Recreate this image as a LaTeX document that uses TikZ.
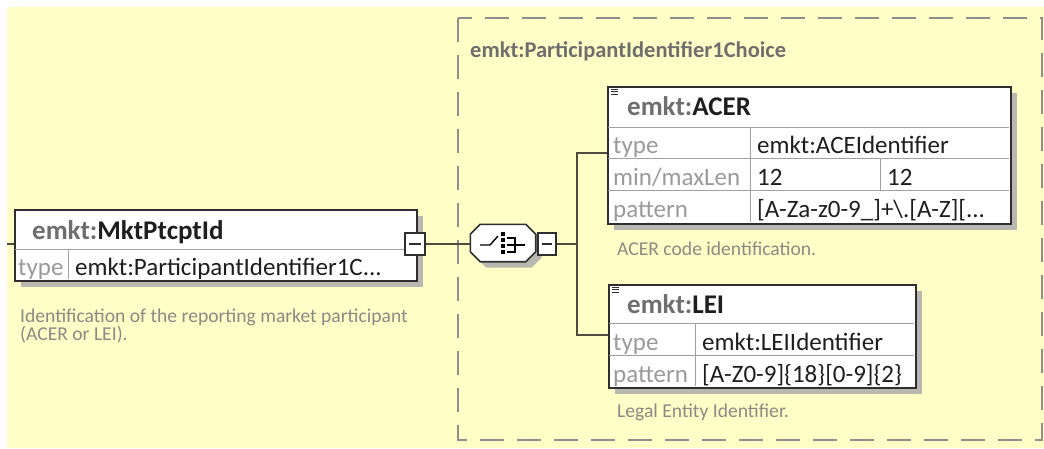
\documentclass[tikz,border=0pt]{standalone}
\usepackage{fontspec}
\setmainfont{Carlito}
\usetikzlibrary{shadows,positioning}

\definecolor{bgyellow}{HTML}{FFFEC6}
\definecolor{dashgray}{HTML}{8E8E8E}
\definecolor{labelgray}{HTML}{9A9A9A}
\definecolor{descgray}{HTML}{8A8A86}
\definecolor{prefixgray}{HTML}{6E6E6E}
\definecolor{textdark}{HTML}{1E1E1E}
\definecolor{boxline}{HTML}{2E2E2E}
\definecolor{rowline}{HTML}{A0A0A0}
\definecolor{shadowgray}{HTML}{B8B8B0}

\tikzset{
    elbox/.style={draw=boxline, line width=1.6pt, fill=white, anchor=north west, inner sep=0pt,
        general shadow={fill=shadowgray, shadow xshift=6pt, shadow yshift=-6pt}},
    foldbox/.style={draw=boxline, line width=1.3pt, fill=white, minimum width=20pt, minimum height=22pt, inner sep=0pt},
    rowrule/.style={draw=rowline, line width=1pt},
    conn/.style={draw=black!80!yellow, line width=1.4pt},
    hdr/.style={anchor=base west, inner sep=0pt, text=textdark, font=\fontsize{27}{27}\selectfont\bfseries},
    lbl/.style={anchor=base west, inner sep=0pt, text=labelgray, font=\fontsize{25}{25}\selectfont},
    val/.style={anchor=base west, inner sep=0pt, text=textdark, font=\fontsize{25}{25}\selectfont},
    desc/.style={anchor=base west, inner sep=0pt, text=descgray, font=\fontsize{19.6}{19.6}\selectfont},
}

\begin{document}
\begin{tikzpicture}[x=1pt,y=-1pt]
    % Canvas
    \fill[white] (0,0) rectangle (1044,448);
    \fill[bgyellow] (7,7) rectangle (1044,448);
    \useasboundingbox (0,0) rectangle (1044,448);

    % Choice group frame
    \draw[dashgray, line width=1.8pt, dash pattern=on 24pt off 13pt] (458,18) rectangle (1042,440);
    \node[anchor=base west, inner sep=0pt, text=prefixgray, font=\fontsize{22.5}{22.5}\selectfont\bfseries]
        (grouptitle) at (470,57) {emkt:ParticipantIdentifier1Choice};

    % Root element
    \node[elbox, minimum width=402pt, minimum height=71pt] (main) at (14,209) {};
    \draw[rowrule] (15,249) -- (415,249);
    \draw[rowrule] (68,249) -- (68,279);
    \node[hdr] (mainname) at (32,239) {\textcolor{prefixgray}{emkt:}MktPtcptId};
    \node[lbl] (maintypel) at (18,275) {type};
    \node[val] (maintype) at (75,275) {emkt:ParticipantIdentifier1C...};
    \node[desc] (maindesc) at (20,322) {Identification of the reporting market participant};
    \node[desc] (maindescb) at (20,340) {(ACER or LEI).};
    \node[foldbox] (mainfold) at (415,244) {};
    \draw[boxline, line width=1.3pt] ([xshift=-6pt]mainfold.center) -- ([xshift=6pt]mainfold.center);

    % Choice compositor
    \node[minimum width=65pt, minimum height=37pt, inner sep=0pt] (choice) at (503,243) {};
    \filldraw[fill=white, draw=boxline, line width=1.6pt,
        general shadow={fill=shadowgray, shadow xshift=6pt, shadow yshift=-6pt}]
        ([xshift=10pt]choice.north west) -- ([xshift=-10pt]choice.north east)
        -- ([yshift=-10pt]choice.north east) -- ([yshift=10pt]choice.south east)
        -- ([xshift=-10pt]choice.south east) -- ([xshift=10pt]choice.south west)
        -- ([yshift=10pt]choice.south west) -- ([yshift=-10pt]choice.north west) -- cycle;
    \begin{scope}[shift={(choice.center)}]
        \draw[black, line width=1.4pt] (-23,2) -- (-13,2) -- (-5,-7);
        \foreach \d in {-9,-3,3,9}
            \fill[black] (-1.8,\d-1.8) rectangle (1.8,\d+1.8);
        \draw[black, line width=1.4pt] (4,-5) -- (12,-5) -- (12,9) -- (4,9);
        \draw[black, line width=1.4pt] (4,2) -- (22,2);
    \end{scope}
    \node[foldbox, minimum width=18pt] (choicefold) at (547,244) {};
    \draw[boxline, line width=1.3pt] ([xshift=-5pt]choicefold.center) -- ([xshift=5pt]choicefold.center);

    % ACER element
    \node[elbox, minimum width=403pt, minimum height=137pt] (acer) at (607,86) {};
    \foreach \y in {127,158,190}
        \draw[rowrule] (608,\y) -- (1009,\y);
    \draw[rowrule] (750,127) -- (750,222);
    \draw[rowrule] (880,158) -- (880,190);
    \foreach \y in {89,91.5,94}
        \draw[boxline, line width=0.9pt] (611,\y) -- (618,\y);
    \node[hdr] (acername) at (627,115) {\textcolor{prefixgray}{emkt:}ACER};
    \node[lbl] (acertypel) at (613,153) {type};
    \node[val] (acertype) at (757,153) {emkt:ACEIdentifier};
    \node[lbl] (acerlenl) at (613,185) {min/maxLen};
    \node[val] (acermin) at (757,185) {12};
    \node[val] (acermax) at (887,185) {12};
    \node[lbl] (acerpatl) at (613,217) {pattern};
    \node[val] (acerpat) at (757,217) {[A-Za-z0-9\_]+\textbackslash.[A-Z][...};
    \node[desc] (acerdesc) at (617,255) {ACER code identification.};

    % LEI element
    \node[elbox, minimum width=307pt, minimum height=103pt] (lei) at (608,284) {};
    \foreach \y in {323,355}
        \draw[rowrule] (609,\y) -- (914,\y);
    \draw[rowrule] (695,323) -- (695,386);
    \foreach \y in {287,289.5,292}
        \draw[boxline, line width=0.9pt] (612,\y) -- (619,\y);
    \node[hdr] (leiname) at (627,313) {\textcolor{prefixgray}{emkt:}LEI};
    \node[lbl] (leitypel) at (613,350) {type};
    \node[val] (leitype) at (702,350) {emkt:LEIIdentifier};
    \node[lbl] (leipatl) at (613,382) {pattern};
    \node[val] (leipat) at (702,382) {[A-Z0-9]\{18\}[0-9]\{2\}};
    \node[desc] (leidesc) at (617,417) {Legal Entity Identifier.};

    % Connectors
    \coordinate (entry) at (7,244);
    \coordinate (fork) at (577,244);
    \coordinate (acerin) at (607,153);
    \coordinate (leiin) at (608,335);
    \draw[conn] (entry) -- (main.west |- entry);
    \draw[conn] (mainfold.east) -- (mainfold.east -| choice.west);
    \draw[conn] (choicefold.east) -- (fork);
    \draw[conn] (acerin) -| (fork) |- (leiin);
\end{tikzpicture}
\end{document}
